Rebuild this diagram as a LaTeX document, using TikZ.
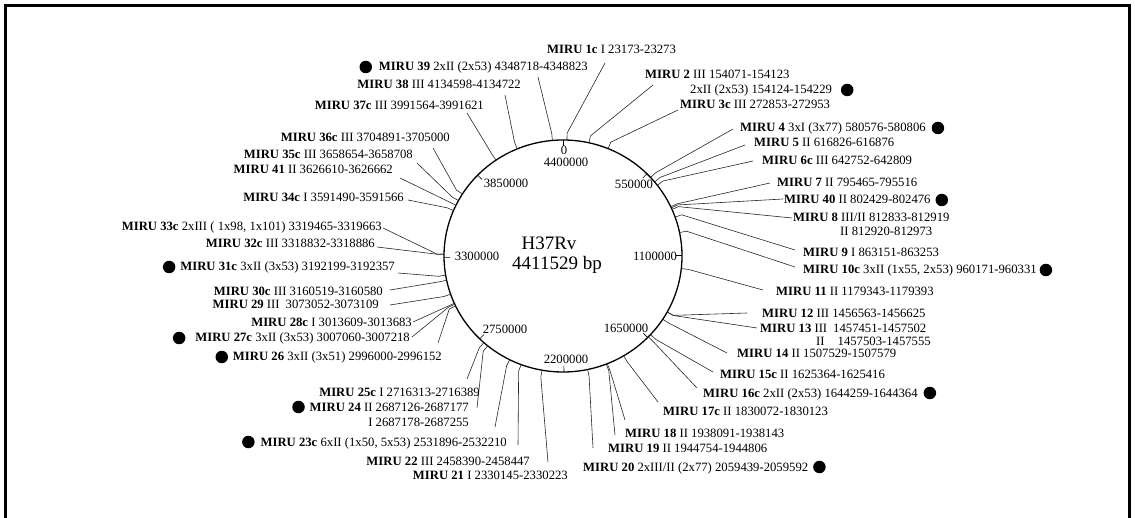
\documentclass[tikz,border=0pt]{standalone}
\usepackage{fontspec}
\setmainfont{Liberation Serif}
\usetikzlibrary{calc}
\newcommand\MB[1]{\textbf{MIRU #1}}
\newcommand\cpt[2]{%
  \coordinate (p#1) at ({563+119*sin(#2)},{256-116*cos(#2)});
  \coordinate (q#1) at ({563+126*sin(#2)},{256-123*cos(#2)});}
\tikzset{
  lab/.style={inner sep=0pt, font=\fontsize{12.7}{14}\selectfont},
  rl/.style={lab, anchor=base west},
  ll/.style={lab, anchor=base east},
  conn/.style={line width=0.6pt, draw=black!85},
  dot/.style={circle, fill=black, inner sep=0pt, minimum size=12.5pt},
  big/.style={inner sep=0pt, font=\fontsize{19}{21}\selectfont, anchor=base},
}
\begin{document}
\begin{tikzpicture}[x=1pt,y=-1pt]
\useasboundingbox (0,0) rectangle (1135,518);
% frame
\draw[line width=2.7pt] (5.3,518) -- (5.3,5.3) -- (1129.7,5.3) -- (1129.7,518);
% genome circle
\coordinate (c) at (563,256);
\draw[line width=1.3pt] (c) ellipse [x radius=119pt, y radius=116pt];
\foreach \a in {0,44.883,89.767,134.65,179.534,224.417,269.3,314.18}
  \draw[line width=0.6pt] ({563+119*sin(\a)},{256-116*cos(\a)}) -- ({563+113*sin(\a)},{256-110*cos(\a)});
% tick labels
\node[lab] (t0) at (564,150) {0};
\node[lab] (t8) at (566,162) {4400000};
\node[lab] (t1) at (634,184) {550000};
\node[lab] (t2) at (655,256) {1100000};
\node[lab] (t3) at (626,328) {1650000};
\node[lab] (t4) at (566,359) {2200000};
\node[lab] (t5) at (505,329) {2750000};
\node[lab] (t6) at (477,256) {3300000};
\node[lab] (t7) at (506,183) {3850000};
\node[big] (name) at (549,250) {H37Rv};
\node[big] (size) at (557,270) {4411529 bp};
% circle attachment points
\cpt{1c}{1.891}\cpt{2}{12.573}\cpt{3c}{22.266}\cpt{4}{47.377}\cpt{5}{50.335}
\cpt{6c}{52.451}\cpt{7}{64.913}\cpt{40}{65.481}\cpt{8}{66.330}\cpt{9}{70.436}
\cpt{10c}{78.354}\cpt{11}{96.240}\cpt{12}{118.862}\cpt{13}{118.934}\cpt{14}{123.021}
\cpt{15c}{132.637}\cpt{16c}{134.179}\cpt{17c}{149.342}\cpt{18}{158.157}\cpt{19}{158.701}
\cpt{20}{168.060}\cpt{21}{190.151}\cpt{22}{200.616}\cpt{23c}{206.615}\cpt{24}{219.282}
\cpt{25c}{221.664}\cpt{26}{244.487}\cpt{27c}{245.390}\cpt{28c}{245.924}\cpt{29}{250.775}
\cpt{30c}{257.913}\cpt{31c}{260.499}\cpt{32c}{270.833}\cpt{33c}{270.883}\cpt{34c}{293.082}
\cpt{41}{295.948}\cpt{35c}{298.563}\cpt{36c}{302.336}\cpt{37c}{325.731}\cpt{38}{337.404}
\cpt{39}{354.875}
% label-side line ends
\coordinate (e1c) at (605,63);  \coordinate (e2) at (653,85);   \coordinate (e3c) at (678,110);
\coordinate (e4) at (733,129);  \coordinate (e5) at (745,145);  \coordinate (e6c) at (753,161);
\coordinate (e7) at (770,183);  \coordinate (e40) at (783,199); \coordinate (e8) at (792,218);
\coordinate (e9) at (795,250);  \coordinate (e10c) at (795,267);\coordinate (e11) at (763,290);
\coordinate (e12) at (747,313); \coordinate (e13) at (757,328); \coordinate (e14) at (727,353);
\coordinate (e15c) at (713,372);\coordinate (e16c) at (697,388);\coordinate (e17c) at (658,402);
\coordinate (e18) at (625,420); \coordinate (e19) at (615,435); \coordinate (e20) at (593,448);
\coordinate (e21) at (548,462); \coordinate (e22) at (518,445); \coordinate (e23c) at (495,427);
\coordinate (e24) at (477,408); \coordinate (e25c) at (467,379);\coordinate (e26) at (438,343);
\coordinate (e27c) at (412,337);\coordinate (e28c) at (413,322);\coordinate (e29) at (390,305);
\coordinate (e30c) at (390,290);\coordinate (e31c) at (398,273);\coordinate (e32c) at (377,247);
\coordinate (e33c) at (383,228);\coordinate (e34c) at (408,200);\coordinate (e41) at (400,178);
\coordinate (e35c) at (417,163);\coordinate (e36c) at (433,148);\coordinate (e37c) at (467,113);
\coordinate (e38) at (505,95);  \coordinate (e39) at (538,77);
\foreach \n in {1c,2,3c,4,5,6c,7,40,8,9,10c,11,12,13,14,15c,16c,17c,18,19,20,21,22,23c,24,25c,26,27c,28c,29,30c,31c,32c,33c,34c,41,35c,36c,37c,38,39}
  \draw[conn] (e\n) -- (q\n) -- (p\n);
% right-hand labels
\node[rl] (l1c) at (547,54) {\MB{1c} I 23173-23273};
\node[rl] (l2) at (645,79) {\MB{2} III 154071-154123};
\node[rl] (l2b) at (690,94) {2xII (2x53) 154124-154229};
\node[rl] (l3c) at (680,109) {\MB{3c} III 272853-272953};
\node[rl] (l4) at (740,132) {\MB{4} 3xI (3x77) 580576-580806};
\node[rl] (l5) at (754,147) {\MB{5} II 616826-616876};
\node[rl] (l6c) at (762,165) {\MB{6c} III 642752-642809};
\node[rl] (l7) at (777,187) {\MB{7} II 795465-795516};
\node[rl] (l40) at (784,204) {\MB{40} II 802429-802476};
\node[rl] (l8) at (793,222) {\MB{8} III/II 812833-812919};
\node[rl] (l8b) at (840,236) {II 812920-812973};
\node[rl] (l9) at (803,257) {\MB{9} I 863151-863253};
\node[rl] (l10c) at (803,274) {\MB{10c} 3xII (1x55, 2x53) 960171-960331};
\node[rl] (l11) at (776,296) {\MB{11} II 1179343-1179393};
\node[rl] (l12) at (762,318) {\MB{12} III 1456563-1456625};
\node[rl] (l13) at (760,333) {\MB{13} III\hspace{6pt}1457451-1457502};
\node[rl] (l13b) at (816,346) {II\hspace{13pt}1457503-1457555};
\node[rl] (l14) at (737,358) {\MB{14} II 1507529-1507579};
\node[rl] (l15c) at (720,379) {\MB{15c} II 1625364-1625416};
\node[rl] (l16c) at (703,397) {\MB{16c} 2xII (2x53) 1644259-1644364};
\node[rl] (l17c) at (663,415) {\MB{17c} II 1830072-1830123};
\node[rl] (l18) at (625,437) {\MB{18} II 1938091-1938143};
\node[rl] (l19) at (608,452) {\MB{19} II 1944754-1944806};
\node[rl] (l20) at (583,471) {\MB{20} 2xIII/II (2x77) 2059439-2059592};
% bottom labels
\node[ll] (l21) at (568,479) {\MB{21} I 2330145-2330223};
\node[ll] (l22) at (530,465) {\MB{22} III 2458390-2458447};
% left-hand labels
\node[ll] (l23c) at (507,446) {\MB{23c} 6xII (1x50, 5x53) 2531896-2532210};
\node[ll] (l24) at (469,411) {\MB{24} II 2687126-2687177};
\node[ll] (l24b) at (469,426) {I 2687178-2687255};
\node[ll] (l25c) at (480,396) {\MB{25c} I 2716313-2716389};
\node[ll] (l26) at (442,361) {\MB{26} 3xII (3x51) 2996000-2996152};
\node[ll] (l27c) at (410,342) {\MB{27c} 3xII (3x53) 3007060-3007218};
\node[ll] (l28c) at (412,327) {\MB{28c} I 3013609-3013683};
\node[ll] (l29) at (379,309) {\MB{29} III\hspace{6pt}3073052-3073109};
\node[ll] (l30c) at (383,296) {\MB{30c} III 3160519-3160580};
\node[ll] (l31c) at (395,271) {\MB{31c} 3xII (3x53) 3192199-3192357};
\node[ll] (l32c) at (375,248) {\MB{32c} III 3318832-3318886};
\node[ll] (l33c) at (382,231) {\MB{33c} 2xIII ( 1x98, 1x101) 3319465-3319663};
\node[ll] (l34c) at (404,202) {\MB{34c} I 3591490-3591566};
\node[ll] (l41) at (393,174) {\MB{41} II 3626610-3626662};
\node[ll] (l35c) at (413,159) {\MB{35c} III 3658654-3658708};
\node[ll] (l36c) at (450,142) {\MB{36c} III 3704891-3705000};
\node[ll] (l37c) at (484,110) {\MB{37c} III 3991564-3991621};
\node[ll] (l38) at (521,89) {\MB{38} III 4134598-4134722};
\node[ll] (l39) at (588,71) {\MB{39} 2xII (2x53) 4348718-4348823};
% bullets
\node[dot] (d2) at ($(l2b.base east)+(15,-4)$) {};
\node[dot] (d4) at ($(l4.base east)+(12,-4)$) {};
\node[dot] (d40) at ($(l40.base east)+(11,-4)$) {};
\node[dot] (d10c) at ($(l10c.base east)+(9,-4)$) {};
\node[dot] (d16c) at ($(l16c.base east)+(12,-4)$) {};
\node[dot] (d20) at ($(l20.base east)+(11,-4)$) {};
\node[dot] (d39) at ($(l39.base west)+(-13,-4)$) {};
\node[dot] (d31c) at ($(l31c.base west)+(-11,-4)$) {};
\node[dot] (d27c) at ($(l27c.base west)+(-16,-4)$) {};
\node[dot] (d26) at ($(l26.base west)+(-11,-4)$) {};
\node[dot] (d24) at ($(l24.base west)+(-11,-4)$) {};
\node[dot] (d23c) at ($(l23c.base west)+(-12,-4)$) {};
\end{tikzpicture}
\end{document}
